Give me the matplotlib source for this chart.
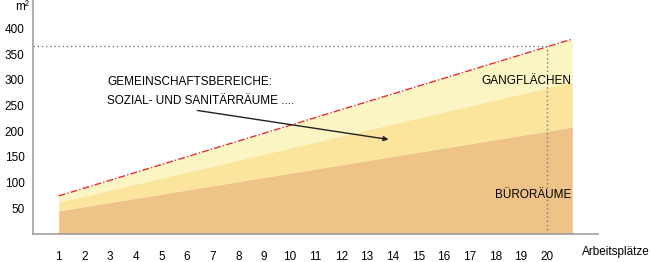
import matplotlib.pyplot as plt

# Arbeitsplätze and the stacked area boundaries (m²)
plaetze = [1, 21]
buero = [45, 208]
gemeinschaft = [62, 296]
gesamt = [74, 379]

x_ticks = list(range(1, 21))
y_ticks = [50, 100, 150, 200, 250, 300, 350, 400]

ref_x = 20
ref_y = 366

plt.rcParams['font.family'] = ['Liberation Sans', 'DejaVu Sans']

fig = plt.figure(figsize=(6.5, 2.62), dpi=100)
ax = fig.add_axes([33 / 650, 28 / 262, 565 / 650, 234 / 262])

c_orange = '#efc387'
c_yellow = '#fbe49c'
c_light = '#fbf5c4'

ax.fill_between(plaetze, 0, buero, color=c_orange, lw=0)
ax.fill_between(plaetze, buero, gemeinschaft, color=c_yellow, lw=0)
ax.fill_between(plaetze, gemeinschaft, gesamt, color=c_light, lw=0)
ax.plot(plaetze, gesamt, color='#e03030', lw=1, ls=(0, (5, 1.5, 1, 1.5)))

# reference lines at 20 workplaces
ax.plot([0, ref_x], [ref_y, ref_y], color='#777777', lw=1, ls=(0, (1, 2)))
ax.plot([ref_x, ref_x], [0, ref_y], color='#777777', lw=1, ls=(0, (1, 2)))

ax.set_xlim(0, 22)
ax.set_ylim(0, 455)
for s in ['top', 'right']:
    ax.spines[s].set_visible(False)
for s in ['left', 'bottom']:
    ax.spines[s].set_color('#a0a0a0')
    ax.spines[s].set_linewidth(1.2)

ax.set_xticks(x_ticks)
ax.set_yticks(y_ticks)
ax.tick_params(axis='both', length=0, labelsize=8.5)
ax.tick_params(axis='x', pad=12)
ax.tick_params(axis='y', pad=6)

fig.text(29 / 650, 1 - 7 / 262, 'm²', ha='right', va='center', fontsize=8.5)
fig.text(582 / 650, 1 - 252 / 262, 'Arbeitsplätze', ha='left', va='center', fontsize=8.5)

ax.text(2.9, 277, 'GEMEINSCHAFTSBEREICHE:\nSOZIAL- UND SANITÄRRÄUME ....',
        ha='left', va='center', fontsize=8.5, linespacing=1.7)
ax.annotate('', xy=(13.95, 183), xytext=(6.3, 241),
            arrowprops=dict(arrowstyle='-|>', color='#222222', lw=1,
                            mutation_scale=7))
ax.text(20.95, 298, 'GANGFLÄCHEN', ha='right', va='center', fontsize=8.5)
ax.text(20.95, 76, 'BÜRORÄUME', ha='right', va='center', fontsize=8.5)

fig.savefig('out.png', dpi=100)
